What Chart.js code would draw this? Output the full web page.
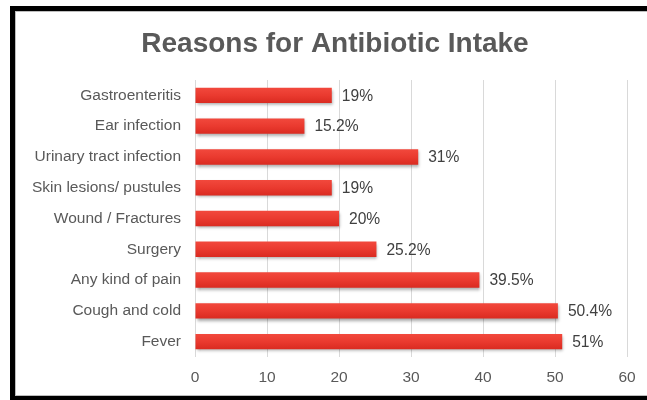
<!DOCTYPE html>
<html>
<head>
<meta charset="utf-8">
<script src="https://cdn.jsdelivr.net/npm/chart.js@4/dist/chart.umd.min.js"></script>
<style>
  html, body { margin: 0; padding: 0; background: #fff; width: 647px; height: 400px; overflow: hidden; }
  #frame { position: absolute; left: 10px; top: 6px; width: 720px; height: 394px; box-sizing: border-box;
           border-left: 5px solid #000; border-top: 5px solid #000; border-bottom: 4px solid #000;
           box-shadow: inset 1px 1px 0 #bdbdbd, inset 0 -1px 0 #bdbdbd; }
  #c { position: absolute; left: 0; top: 0; }
</style>
</head>
<body>
<div id="frame"></div>
<canvas id="c" width="647" height="400"></canvas>
<script>
const titleText = 'Reasons for Antibiotic Intake';
const categories = ['Gastroenteritis', 'Ear infection', 'Urinary tract infection', 'Skin lesions/ pustules',
  'Wound / Fractures', 'Surgery', 'Any kind of pain', 'Cough and cold', 'Fever'];
const values = [19, 15.2, 31, 19, 20, 25.2, 39.5, 50.4, 51];
const valueLabels = ['19%', '15.2%', '31%', '19%', '20%', '25.2%', '39.5%', '50.4%', '51%'];
const xTicks = [0, 10, 20, 30, 40, 50, 60];

const FONT = "'Liberation Sans', Arial, Helvetica, sans-serif";

const shadowPlugin = {
  id: 'barShadow',
  beforeDatasetDraw(chart) {
    const ctx = chart.ctx;
    ctx.save();
    ctx.shadowColor = 'rgba(0,0,0,0.35)';
    ctx.shadowBlur = 3;
    ctx.shadowOffsetX = 1;
    ctx.shadowOffsetY = 2;
  },
  afterDatasetDraw(chart) {
    chart.ctx.restore();
  }
};

const titleShiftPlugin = {
  id: 'titleShift',
  afterLayout(chart) {
    const tb = chart.titleBlock;
    if (tb) { tb.left += 14; tb.right += 14; }
  }
};

const labelPlugin = {
  id: 'valueLabels',
  afterDatasetsDraw(chart) {
    const ctx = chart.ctx;
    const meta = chart.getDatasetMeta(0);
    ctx.save();
    ctx.font = '15.6px ' + FONT;
    ctx.fillStyle = '#404040';
    ctx.textAlign = 'left';
    ctx.textBaseline = 'middle';
    meta.data.forEach((bar, i) => {
      ctx.fillText(valueLabels[i], bar.x + 10, bar.y + 1);
    });
    ctx.restore();
  }
};

function barFill(context) {
  const chart = context.chart;
  const yScale = chart.scales && chart.scales.y;
  if (!chart.chartArea || !yScale || context.dataIndex === undefined) return '#e8352b';
  const yc = yScale.getPixelForValue(context.dataIndex);
  const g = chart.ctx.createLinearGradient(0, yc - 8, 0, yc + 8);
  g.addColorStop(0, '#f2493d');
  g.addColorStop(0.5, '#ea3a2f');
  g.addColorStop(1, '#d92a20');
  return g;
}

new Chart(document.getElementById('c'), {
  type: 'bar',
  data: {
    labels: categories,
    datasets: [{
      data: values,
      backgroundColor: barFill,
      borderWidth: 0,
      categoryPercentage: 1,
      barPercentage: 0.5
    }]
  },
  plugins: [shadowPlugin, labelPlugin, titleShiftPlugin],
  options: {
    indexAxis: 'y',
    responsive: false,
    animation: false,
    devicePixelRatio: 1,
    layout: { padding: { left: 15, right: 20, top: 0, bottom: 0 } },
    plugins: {
      legend: { display: false },
      tooltip: { enabled: false },
      title: {
        display: true,
        text: titleText,
        color: '#595959',
        font: { family: FONT, size: 28, weight: 'bold', lineHeight: 1.2 },
        padding: { top: 27.5, bottom: 18.9 }
      }
    },
    scales: {
      x: {
        min: 0,
        max: 60,
        afterBuildTicks(scale) { scale.ticks = xTicks.map(v => ({ value: v })); },
        afterFit(scale) { scale.height = 43; },
        grid: { color: '#d9d9d9', lineWidth: 1, drawTicks: false },
        border: { display: false },
        ticks: { color: '#595959', font: { family: FONT, size: 15.5 }, padding: 11 }
      },
      y: {
        afterFit(scale) { scale.width = 180; },
        grid: { display: false, drawTicks: false },
        border: { display: false },
        ticks: { color: '#595959', font: { family: FONT, size: 15.5 }, padding: 14 }
      }
    }
  }
});
</script>
</body>
</html>
